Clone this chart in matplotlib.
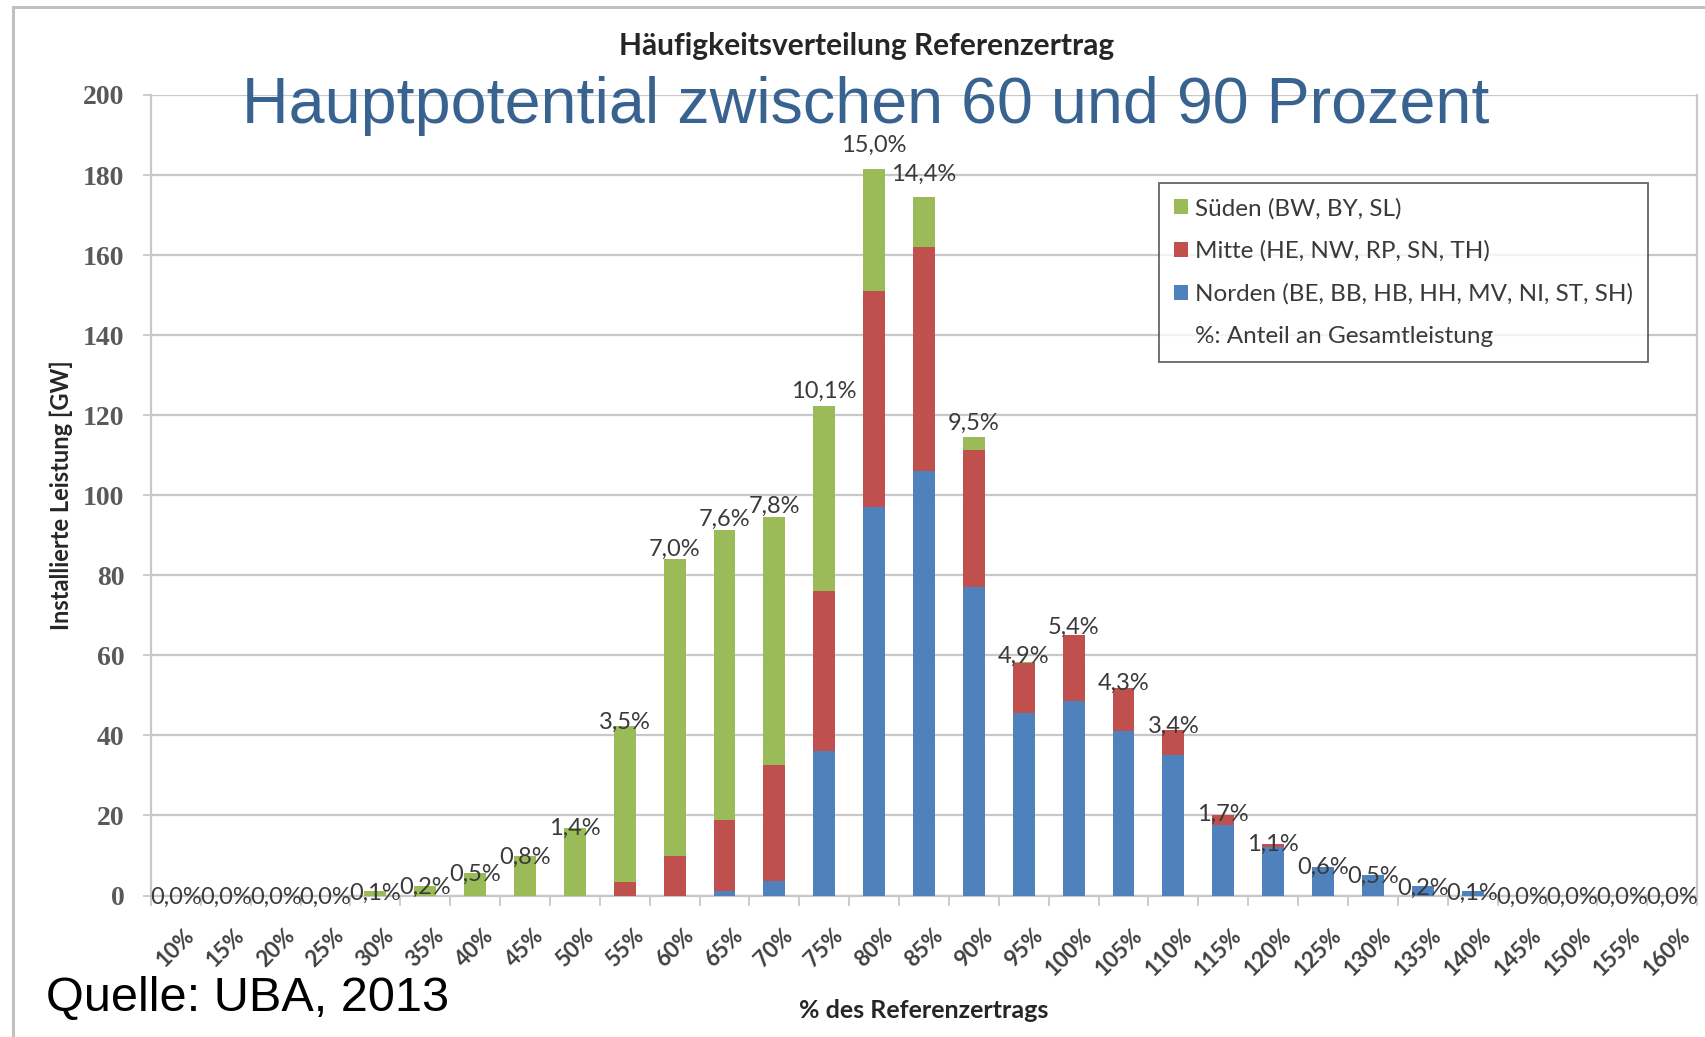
import matplotlib
matplotlib.use("Agg")
import matplotlib.pyplot as plt
import matplotlib.transforms as mtransforms
from matplotlib.patches import Patch
from matplotlib.lines import Line2D
import numpy as np

categories = ['10%', '15%', '20%', '25%', '30%', '35%', '40%', '45%', '50%', '55%',
              '60%', '65%', '70%', '75%', '80%', '85%', '90%', '95%', '100%', '105%',
              '110%', '115%', '120%', '125%', '130%', '135%', '140%', '145%', '150%',
              '155%', '160%']
norden = [0, 0, 0, 0, 0, 0, 0, 0, 0, 0,
          0, 1.0, 3.5, 36, 97, 106, 77, 45.5, 48.7, 41,
          35, 17.6, 12.2, 7.2, 5.2, 2.3, 1.1, 0, 0, 0, 0]
mitte = [0, 0, 0, 0, 0, 0, 0, 0, 0, 3.3,
         9.8, 17.8, 29, 40, 54, 56, 34.2, 12.5, 16.3, 10.8,
         6.4, 2.5, 0.6, 0, 0, 0, 0, 0, 0, 0, 0]
sueden = [0, 0, 0, 0, 1.0, 2.4, 5.5, 9.8, 16.8, 39.1,
          74.2, 72.5, 62, 46.3, 30.5, 12.5, 3.3, 0.3, 0.2, 0,
          0, 0, 0, 0, 0, 0, 0, 0, 0, 0, 0]
anteil = ['0,0%', '0,0%', '0,0%', '0,0%', '0,1%', '0,2%', '0,5%', '0,8%', '1,4%', '3,5%',
          '7,0%', '7,6%', '7,8%', '10,1%', '15,0%', '14,4%', '9,5%', '4,9%', '5,4%', '4,3%',
          '3,4%', '1,7%', '1,1%', '0,6%', '0,5%', '0,2%', '0,1%', '0,0%', '0,0%', '0,0%', '0,0%']
series_names = ['Süden (BW, BY, SL)', 'Mitte (HE, NW, RP, SN, TH)',
                'Norden (BE, BB, HB, HH, MV, NI, ST, SH)']
legend_note = '%: Anteil an Gesamtleistung'
yticks = [0, 20, 40, 60, 80, 100, 120, 140, 160, 180, 200]

C_GREEN = '#9BBB59'
C_RED = '#C0504D'
C_BLUE = '#4F81BD'
GRID = '#C8C8C8'
TXT = '#3A3A3A'

SANS = ['Lato', 'DejaVu Sans']
plt.rcParams['font.family'] = SANS

W, H = 1706, 1037
fig = plt.figure(figsize=(W / 100, H / 100), dpi=100)
fig.patch.set_facecolor('white')

x0, x1 = 151, 1697
ytop, ybot = 95, 895.5
ax = fig.add_axes([x0 / W, 1 - ybot / H, (x1 - x0) / W, (ybot - ytop) / H])

x = np.arange(len(categories))
n = np.array(norden)
m = np.array(mitte)
s = np.array(sueden)
bw = 0.44
ax.bar(x, n, bw, color=C_BLUE, zorder=3)
ax.bar(x, m, bw, bottom=n, color=C_RED, zorder=3)
ax.bar(x, s, bw, bottom=n + m, color=C_GREEN, zorder=3)

total = n + m + s
for xi, t, lab in zip(x, total, anteil):
    ax.text(xi, t * 1.035, lab, ha='center', va='center_baseline', fontsize=17,
            color=TXT, zorder=5)

ax.set_xlim(-0.5, len(categories) - 0.5)
ax.set_ylim(0, 200)
ax.set_yticks(yticks)
ax.set_yticklabels([str(v) for v in yticks], family=['Liberation Serif'],
                   fontsize=20, fontweight='bold', color='#595959')
ax.yaxis.grid(True, color=GRID, lw=1.6, zorder=0)
ax.set_axisbelow(True)

ax.set_xticks(x)
ax.set_xticklabels(categories, rotation=45, ha='right', rotation_mode='anchor',
                   fontsize=16, fontweight='bold', color='#404040')
ax.set_xticks(np.arange(-0.5, len(categories), 1.0), minor=True)
ax.tick_params(axis='x', which='major', length=0, pad=21)
ax.tick_params(axis='x', which='minor', length=7, width=1.3, color=GRID, direction='out')
ax.tick_params(axis='y', which='major', length=6, width=1.3, color=GRID, pad=13)
offset = mtransforms.ScaledTranslation(8 / 100, 0, fig.dpi_scale_trans)
for lbl in ax.get_xticklabels():
    lbl.set_transform(lbl.get_transform() + offset)

for side in ['left', 'bottom', 'right']:
    ax.spines[side].set_color(GRID)
    ax.spines[side].set_linewidth(1.6)
ax.spines['top'].set_visible(False)

ax.set_xlabel('% des Referenzertrags', fontsize=18, fontweight='bold', color='#262626')
ax.set_ylabel('Installierte Leistung [GW]', fontsize=17, fontweight='bold', color='#262626')
ax.xaxis.set_label_coords(0.5, (ybot - 999) / (ybot - ytop), transform=ax.transAxes)
ax.yaxis.set_label_coords((73 - x0) / (x1 - x0), 0.5, transform=ax.transAxes)

handles = [Patch(facecolor=C_GREEN, edgecolor='none'),
           Patch(facecolor=C_RED, edgecolor='none'),
           Patch(facecolor=C_BLUE, edgecolor='none'),
           Patch(facecolor='none', edgecolor='none')]
leg = fig.legend(handles, series_names + [legend_note], loc='upper left',
                 bbox_to_anchor=(1159 / W, 1 - 183 / H), fontsize=17.5,
                 frameon=True, fancybox=False, handlelength=0.6, handleheight=0.6,
                 handletextpad=0.3, labelspacing=0.88, borderpad=0.6,
                 borderaxespad=0)
leg.get_frame().set_edgecolor('#404040')
leg.get_frame().set_linewidth(1.3)
for t in leg.get_texts():
    t.set_color(TXT)

fig.text(867 / W, 1 - 46 / H, 'Häufigkeitsverteilung Referenzertrag', ha='center',
         va='center', fontsize=21.5, fontweight='bold', color='#262626')
fig.text(866 / W, 1 - 106 / H, 'Hauptpotential zwischen 60 und 90 Prozent',
         ha='center', va='center', fontsize=46.5, color='#386391',
         family=['Liberation Sans', 'DejaVu Sans'])
fig.text(46 / W, 1 - 999 / H, 'Quelle: UBA, 2013', ha='left', va='center',
         fontsize=35, color='black', family=['Liberation Sans', 'DejaVu Sans'])

fig.add_artist(Line2D([13 / W, 13 / W], [0, 1 - 7 / H], transform=fig.transFigure,
                      color='#C0C0C0', lw=2.2))
fig.add_artist(Line2D([13 / W, 1], [1 - 7 / H, 1 - 7 / H], transform=fig.transFigure,
                      color='#C0C0C0', lw=2.2))

fig.savefig('out.png', dpi=100, facecolor='white')
